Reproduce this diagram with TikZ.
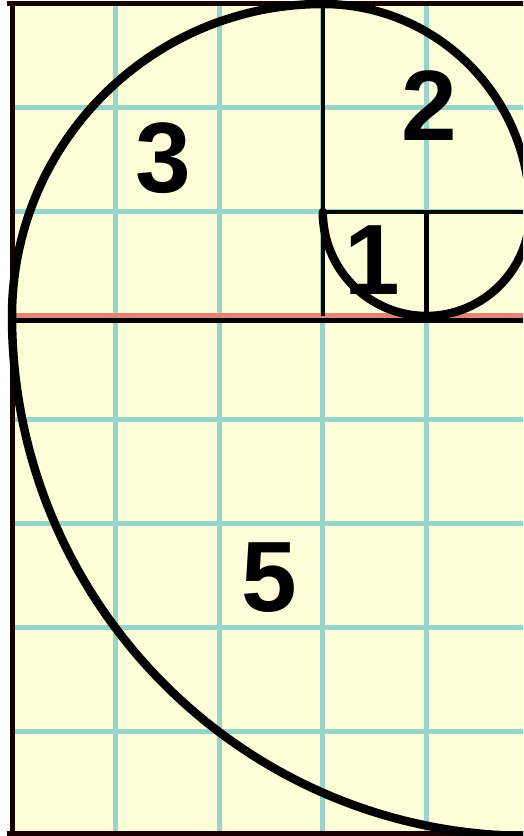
\documentclass[tikz,border=0pt]{standalone}
\usepackage{fontspec}
\setmainfont{Liberation Sans}
\definecolor{paper}{RGB}{254,254,216}
\definecolor{gridc}{RGB}{150,212,204}
\definecolor{redl}{RGB}{226,134,120}
\tikzset{
  gridline/.style={draw=gridc, line width=5pt},
  sqline/.style={draw=black, line width=4.5pt},
  frameline/.style={draw=black!90!red, line width=5pt},
  spiral/.style={draw=black, line width=8.5pt, line cap=round, line join=round},
  digit/.style={font=\bfseries\fontsize{100}{100}\selectfont, inner sep=0pt, text=black},
}
\begin{document}
\begin{tikzpicture}
\useasboundingbox (0pt,0pt) rectangle (523pt,836pt);
\fill[white] (0pt,0pt) rectangle (523pt,836pt);
\clip (0pt,0pt) rectangle (523pt,836pt);
\begin{scope}[xshift=12pt, x=103.6pt, y=104pt]
  % paper
  \fill[paper] (0,0) rectangle (5,8);
  % grid
  \foreach \i in {1,2,3,4} \draw[gridline] (\i,0) -- (\i,8);
  \foreach \j in {1,...,7} \draw[gridline] (0,\j) -- (5,\j);
  % red and black base line
  \draw[draw=black, line width=5pt] (0,4.952) -- (5,4.952);
  \draw[draw=redl, line width=5pt] (0,5) -- (5,5);
  % square lines
  \draw[sqline] (3,5) -- (3,8);
  \draw[sqline] (3,6) -- (5,6);
  \draw[sqline] (4,5) -- (4,6);
  % frame
  \draw[frameline] (0,-0.1) -- (0,8);
  \draw[frameline] (-0.05,8) -- (5,8);
  \draw[frameline] (-0.05,0.02) -- (5,0.02);
  % digits
  \node[digit] (n3) at (1.463,6.519) {3};
  \node[digit] (n2) at (4.025,7.02) {2};
  \node[digit] (n5) at (2.481,2.48) {5};
  \node[digit] (n1) at (3.475,5.54) {1};
  % spiral
  \draw[spiral] (3,6)
     arc[start angle=180, end angle=270, x radius=103.6pt, y radius=104pt]
     arc[start angle=-90, end angle=0, x radius=103.6pt, y radius=104pt]
     arc[start angle=0, end angle=90, x radius=207.2pt, y radius=208pt]
     arc[start angle=90, end angle=180, x radius=310.8pt, y radius=312pt]
     arc[start angle=180, end angle=270, x radius=518pt, y radius=520pt];
\end{scope}
\end{tikzpicture}
\end{document}
